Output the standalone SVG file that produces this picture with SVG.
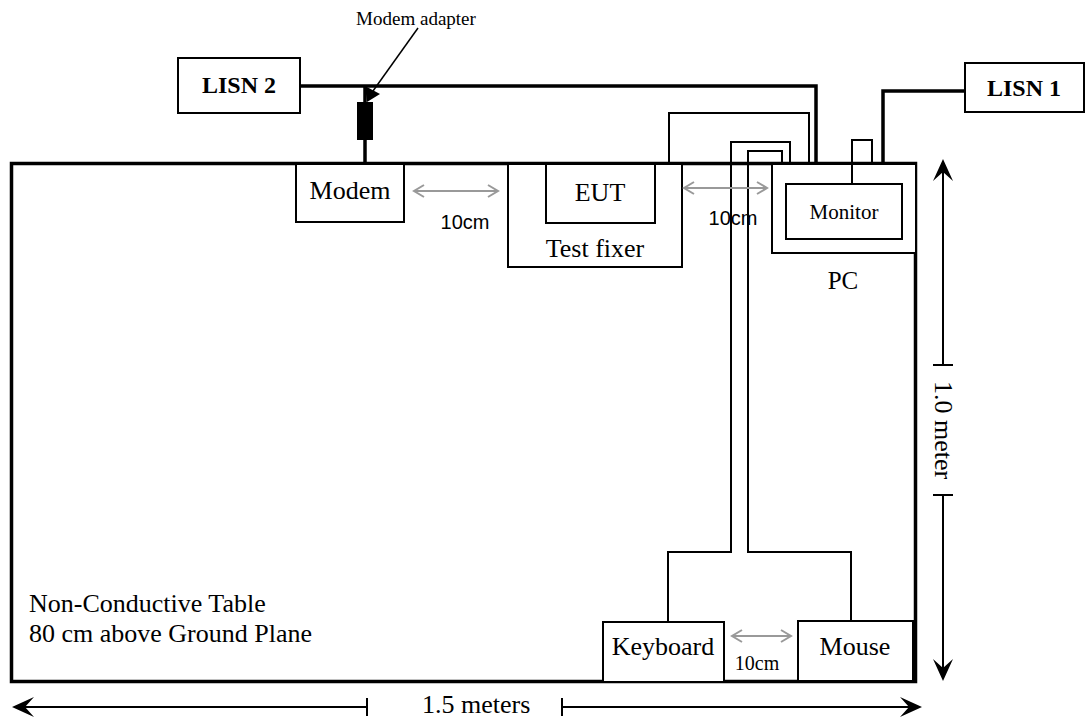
<svg xmlns="http://www.w3.org/2000/svg" width="1086" height="721" viewBox="0 0 1086 721">
<defs>
<style>
.box{fill:#fff;stroke:#000;stroke-width:2}
.cab{fill:none;stroke:#000;stroke-width:2}
.pow{fill:none;stroke:#000;stroke-width:3.5}
.dim{fill:none;stroke:#000;stroke-width:2}
.gray{fill:none;stroke:#999;stroke-width:2}
.s{font-family:"Liberation Serif","Times New Roman",serif;fill:#000}
.a{font-family:"Liberation Sans",Arial,sans-serif;fill:#000}
</style>
</defs>
<rect width="1086" height="721" fill="#fff"/>
<g id="table">
<rect x="11.5" y="163.5" width="904" height="518" fill="#fff" stroke="#000" stroke-width="3.5"/>
<text class="s" x="29" y="612" font-size="26">Non-Conductive Table</text>
<text class="s" x="29" y="642" font-size="26">80 cm above Ground Plane</text>
</g>
<g id="lisn2">
<rect class="box" x="178" y="58" width="122" height="55"/>
<text class="s" x="239" y="93" font-size="24" font-weight="bold" text-anchor="middle">LISN 2</text>
</g>
<g id="lisn1">
<rect class="box" x="965" y="63" width="119" height="49"/>
<text class="s" x="1024" y="96" font-size="24" font-weight="bold" text-anchor="middle">LISN 1</text>
</g>
<g id="modem">
<rect class="box" x="296" y="164" width="108" height="58"/>
<text class="s" x="350" y="199" font-size="26" text-anchor="middle">Modem</text>
</g>
<g id="test-fixer">
<rect class="box" x="508" y="164" width="174" height="103"/>
<text class="s" x="595" y="257" font-size="26" text-anchor="middle">Test fixer</text>
</g>
<g id="eut">
<rect class="box" x="546" y="164" width="109" height="59"/>
<text class="s" x="600" y="201" font-size="26" text-anchor="middle">EUT</text>
</g>
<g id="pc">
<rect class="box" x="772" y="164" width="144" height="89"/>
<text class="s" x="843" y="289" font-size="25" text-anchor="middle">PC</text>
</g>
<g id="monitor">
<rect class="box" x="786" y="184" width="116" height="55"/>
<text class="s" x="844" y="219" font-size="21" text-anchor="middle">Monitor</text>
</g>
<g id="keyboard">
<rect class="box" x="603" y="622" width="121" height="60"/>
<text class="s" x="663" y="655" font-size="26" text-anchor="middle">Keyboard</text>
</g>
<g id="mouse">
<rect class="box" x="798" y="621" width="115" height="60"/>
<text class="s" x="855" y="655" font-size="26" text-anchor="middle">Mouse</text>
</g>
<g id="modem-adapter">
<rect x="357" y="102" width="16" height="38" fill="#000"/>
<text class="s" x="416" y="25" font-size="19" text-anchor="middle">Modem adapter</text>
</g>
<g id="connectors">
<polyline class="pow" points="300,86 816,86 816,164"/>
<polyline class="pow" points="365,86 365,164"/>
<polyline class="pow" points="965,91 883,91 883,164"/>
<polyline class="cab" points="669,164 669,113 809,113 809,164"/>
<polyline class="cab" points="852,184 852,140 872,140 872,164"/>
<polyline class="cab" points="790,164 790,142 731,142 731,552 668,552 668,622"/>
<polyline class="cab" points="782,164 782,151 748,151 748,552 851,552 851,621"/>
<line x1="418" y1="28" x2="373" y2="91" stroke="#000" stroke-width="1.5"/>
<polygon points="365,86 380,94 367,102" fill="#000"/>
<g class="gray">
<line x1="414" y1="191" x2="498" y2="191"/>
<polyline points="424,185 414,191 424,197"/>
<polyline points="488,185 498,191 488,197"/>
<line x1="684" y1="188" x2="767" y2="188"/>
<polyline points="694,182 684,188 694,194"/>
<polyline points="757,182 767,188 757,194"/>
<line x1="732" y1="636" x2="791" y2="636"/>
<polyline points="742,630 732,636 742,642"/>
<polyline points="781,630 791,636 781,642"/>
</g>
<text class="a" x="465" y="229" font-size="20" text-anchor="middle">10cm</text>
<text class="a" x="733" y="225" font-size="20" text-anchor="middle">10cm</text>
<text class="s" x="757" y="670" font-size="20" text-anchor="middle">10cm</text>
</g>
<g id="dimensions">
<line class="dim" x1="943" y1="168" x2="943" y2="365"/>
<line class="dim" x1="943" y1="495" x2="943" y2="672"/>
<line class="dim" x1="933" y1="365" x2="953" y2="365"/>
<line class="dim" x1="933" y1="495" x2="953" y2="495"/>
<polygon points="943,159 953,181 943,172 933,181" fill="#000"/>
<polygon points="943,681 953,659 943,668 933,659" fill="#000"/>
<text class="s" font-size="26" text-anchor="middle" dominant-baseline="central" transform="translate(943,430) rotate(90)">1.0 meter</text>
<line class="dim" x1="22" y1="707" x2="367" y2="707"/>
<line class="dim" x1="562" y1="707" x2="913" y2="707"/>
<line class="dim" x1="367" y1="698" x2="367" y2="716"/>
<line class="dim" x1="562" y1="698" x2="562" y2="716"/>
<polygon points="12,707 34,697 25,707 34,717" fill="#000"/>
<polygon points="922,707 900,697 909,707 900,717" fill="#000"/>
<text class="s" x="422" y="713" font-size="26">1.5 meters</text>
</g>
</svg>
